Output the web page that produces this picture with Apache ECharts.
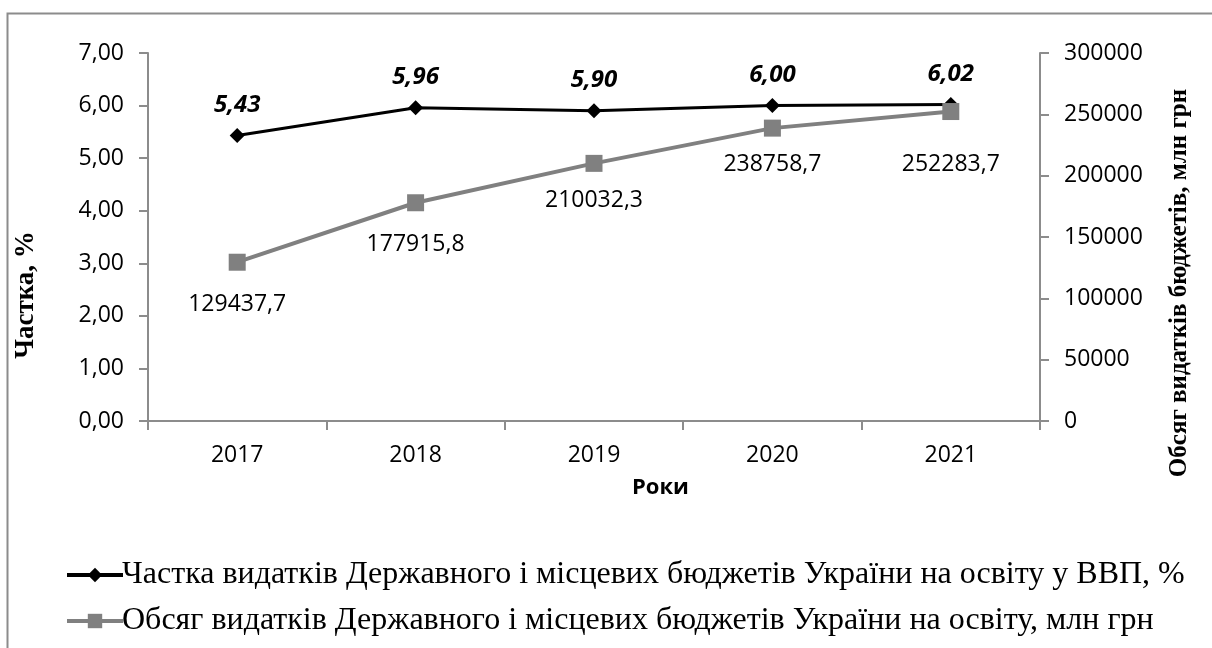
<!DOCTYPE html>
<html>
<head>
<meta charset="utf-8">
<script src="https://cdn.jsdelivr.net/npm/echarts@6/dist/echarts.min.js"></script>
<style>
  html, body { margin: 0; padding: 0; background: #fff; }
  #main { width: 1212px; height: 648px; }
</style>
</head>
<body>
<div id="main"></div>
<script>
// роки та значення
var years = ['2017', '2018', '2019', '2020', '2021'];
var shareGdp = [5.43, 5.96, 5.90, 6.00, 6.02];
var volume = [129437.7, 177915.8, 210032.3, 238758.7, 252283.7];
var leftTicks = [0, 7, 1];
var rightTicks = [0, 300000, 50000];

var nameShare = 'Частка видатків Державного і місцевих бюджетів України на освіту у ВВП, %';
var nameVolume = 'Обсяг видатків Державного і місцевих бюджетів України на освіту, млн грн';

var tickFont = '"Open Sans", sans-serif';
var serifFont = '"Liberation Serif", "DejaVu Serif", serif';

// відстань підписів під сірою лінією
var volumeDist = [22, 22, 17, 16, 33];
var volumeData = [];
for (var i = 0; i < volume.length; i++) {
    volumeData.push({ value: volume[i], label: { distance: volumeDist[i] } });
}

var chart = echarts.init(document.getElementById('main'));

var option = {
    animation: false,
    backgroundColor: '#fff',
    grid: { left: 148, right: 172, top: 53, bottom: 227 },
    graphic: [{
        type: 'rect',
        shape: { x: 7.5, y: 13.5, width: 1240, height: 700 },
        style: { fill: 'none', stroke: '#8c8c8c', lineWidth: 2 }
    }, {
        type: 'text',
        left: 632, top: 477,
        style: { text: 'Роки', font: 'bold 22px "Open Sans", sans-serif', fill: '#000' }
    }],
    legend: {
        orient: 'vertical',
        left: 60, top: 554,
        itemWidth: 56, itemHeight: 18,
        itemGap: 14,
        lineStyle: { width: 4 },
        textStyle: { fontFamily: serifFont, fontSize: 32, color: '#000', padding: [0, 0, 0, -6] },
        data: [nameShare, nameVolume]
    },
    xAxis: {
        type: 'category',
        data: years,
        boundaryGap: true,
        axisLine: { lineStyle: { color: '#8c8c8c', width: 2 } },
        axisTick: { show: true, length: 9, lineStyle: { color: '#8c8c8c', width: 2 } },
        axisLabel: { fontFamily: tickFont, fontSize: 23, color: '#000', margin: 23 }
    },
    yAxis: [{
        type: 'value',
        min: leftTicks[0], max: leftTicks[1], interval: leftTicks[2],
        name: 'Частка, %',
        nameLocation: 'middle',
        nameGap: 108,
        nameRotate: 90,
        nameTextStyle: { fontFamily: serifFont, fontWeight: 'bold', fontSize: 27, color: '#000', padding: [0, 0, 0, -116] },
        axisLine: { show: true, lineStyle: { color: '#8c8c8c', width: 2 } },
        axisTick: { show: true, length: 9, lineStyle: { color: '#8c8c8c', width: 2 } },
        splitLine: { show: false },
        axisLabel: {
            fontFamily: tickFont, fontSize: 23, color: '#000', margin: 24,
            formatter: function (v) { return v.toFixed(2).replace('.', ','); }
        }
    }, {
        type: 'value',
        position: 'right',
        min: rightTicks[0], max: rightTicks[1], interval: rightTicks[2],
        name: 'Обсяг видатків бюджетів, млн грн',
        nameLocation: 'middle',
        nameGap: 127,
        nameRotate: 90,
        nameTextStyle: { fontFamily: serifFont, fontWeight: 'bold', fontSize: 25, color: '#000', padding: [0, 0, 0, -92] },
        axisLine: { show: true, lineStyle: { color: '#8c8c8c', width: 2 } },
        axisTick: { show: true, length: 9, lineStyle: { color: '#8c8c8c', width: 2 } },
        splitLine: { show: false },
        axisLabel: {
            fontFamily: tickFont, fontSize: 23, color: '#000', margin: 24,
            formatter: function (v) { return String(v); }
        }
    }],
    series: [{
        name: nameShare,
        type: 'line',
        yAxisIndex: 0,
        data: shareGdp,
        symbol: 'diamond',
        symbolSize: 15,
        lineStyle: { color: '#000', width: 3 },
        itemStyle: { color: '#000' },
        label: {
            show: true, position: 'top', distance: 11,
            fontFamily: tickFont, fontSize: 24, fontWeight: 'bold', fontStyle: 'italic', color: '#000',
            formatter: function (p) { return p.value.toFixed(2).replace('.', ','); }
        }
    }, {
        name: nameVolume,
        type: 'line',
        yAxisIndex: 1,
        data: volumeData,
        symbol: 'rect',
        symbolSize: 17,
        lineStyle: { color: '#808080', width: 4 },
        itemStyle: { color: '#808080' },
        label: {
            show: true, position: 'bottom',
            fontFamily: tickFont, fontSize: 23, color: '#000',
            formatter: function (p) { return p.value.toFixed(1).replace('.', ','); }
        }
    }]
};
chart.setOption(option);
</script>
</body>
</html>
